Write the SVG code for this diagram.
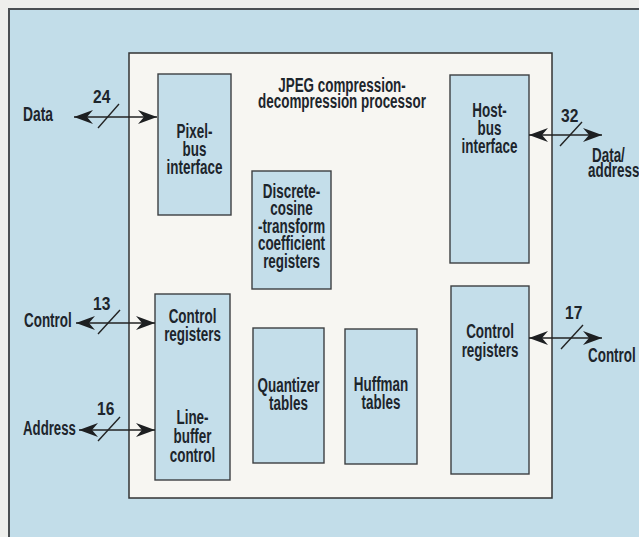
<svg xmlns="http://www.w3.org/2000/svg" width="639" height="537" viewBox="0 0 639 537">
<defs>
<style>
.bg{fill:#c2dde9;stroke:#4a4f52;stroke-width:2}
.chip{fill:#f7f6f2;stroke:#333;stroke-width:1.5}
.box{fill:#c4deea;stroke:#3c3f42;stroke-width:1.4}
text{font-family:"Liberation Sans",Arial,sans-serif;font-weight:bold;font-size:21px;fill:#1d252c}
.c{text-anchor:middle}
.n{font-size:19px}
.wire{stroke:#222;stroke-width:1.3;fill:none}
.sl{stroke:#222;stroke-width:1.4;fill:none}
</style>
<marker id="ah" markerUnits="userSpaceOnUse" markerWidth="21" markerHeight="16" viewBox="-20 -8 21 16" refX="0" refY="0" orient="auto-start-reverse">
<path d="M0,0 L-19,-7 L-13,0 L-19,7 Z" fill="#1d1f21"/>
</marker>
</defs>
<rect x="0" y="0" width="639" height="537" fill="#eeefec"/>
<rect class="bg" x="9" y="9" width="700" height="600"/>

<g id="chip">
<rect class="chip" x="129" y="53" width="423" height="445"/>
<g transform="translate(342,0) scale(0.64,1)">
<text class="c" x="0" y="92">JPEG compression-</text>
<text class="c" x="0" y="108">decompression processor</text>
</g>
</g>

<g id="pixel-bus">
<rect class="box" x="158" y="74" width="73" height="141"/>
<g transform="translate(194.5,0) scale(0.64,1)">
<text class="c" x="0" y="138">Pixel-</text>
<text class="c" x="0" y="156">bus</text>
<text class="c" x="0" y="174">interface</text>
</g>
</g>

<g id="dct">
<rect class="box" x="252" y="171" width="79" height="118"/>
<g transform="translate(291.5,0) scale(0.64,1)">
<text class="c" x="0" y="198">Discrete-</text>
<text class="c" x="0" y="215.5">cosine</text>
<text class="c" x="0" y="233">-transform</text>
<text class="c" x="0" y="250.5">coefficient</text>
<text class="c" x="0" y="268">registers</text>
</g>
</g>

<g id="host-bus">
<rect class="box" x="450" y="75" width="79" height="188"/>
<g transform="translate(489.5,0) scale(0.64,1)">
<text class="c" x="0" y="117">Host-</text>
<text class="c" x="0" y="135">bus</text>
<text class="c" x="0" y="153">interface</text>
</g>
</g>

<g id="left-control">
<rect class="box" x="155" y="294" width="75" height="186"/>
<g transform="translate(192.5,0) scale(0.64,1)">
<text class="c" x="0" y="323">Control</text>
<text class="c" x="0" y="341.5">registers</text>
<text class="c" x="0" y="424">Line-</text>
<text class="c" x="0" y="443">buffer</text>
<text class="c" x="0" y="462">control</text>
</g>
</g>

<g id="quantizer">
<rect class="box" x="253" y="328" width="71" height="135"/>
<g transform="translate(288.5,0) scale(0.64,1)">
<text class="c" x="0" y="392">Quantizer</text>
<text class="c" x="0" y="410">tables</text>
</g>
</g>

<g id="huffman">
<rect class="box" x="345" y="329" width="72" height="135"/>
<g transform="translate(381,0) scale(0.64,1)">
<text class="c" x="0" y="391">Huffman</text>
<text class="c" x="0" y="409">tables</text>
</g>
</g>

<g id="right-control">
<rect class="box" x="451" y="286" width="78" height="188"/>
<g transform="translate(490,0) scale(0.64,1)">
<text class="c" x="0" y="338">Control</text>
<text class="c" x="0" y="357">registers</text>
</g>
</g>

<g id="connectors">
<line class="wire" x1="74" y1="117" x2="157" y2="117" marker-start="url(#ah)" marker-end="url(#ah)"/>
<line class="sl" x1="98" y1="128" x2="119" y2="104"/>
<line class="wire" x1="76" y1="323" x2="155" y2="323" marker-start="url(#ah)" marker-end="url(#ah)"/>
<line class="sl" x1="98" y1="334" x2="120" y2="310"/>
<line class="wire" x1="79" y1="430" x2="155" y2="430" marker-start="url(#ah)" marker-end="url(#ah)"/>
<line class="sl" x1="98" y1="441" x2="120" y2="417"/>
<line class="wire" x1="529" y1="135" x2="602" y2="135" marker-start="url(#ah)" marker-end="url(#ah)"/>
<line class="sl" x1="560" y1="146" x2="582" y2="122"/>
<line class="wire" x1="529" y1="338" x2="602" y2="338" marker-start="url(#ah)" marker-end="url(#ah)"/>
<line class="sl" x1="561" y1="349" x2="583" y2="325"/>
</g>

<g id="labels">
<text transform="translate(23,121) scale(0.66,1)">Data</text>
<text transform="translate(24,327) scale(0.64,1)">Control</text>
<text transform="translate(23,435) scale(0.63,1)">Address</text>
<text class="n" transform="translate(93,103) scale(0.82,1)">24</text>
<text class="n" transform="translate(93,310) scale(0.82,1)">13</text>
<text class="n" transform="translate(97,415) scale(0.82,1)">16</text>
<text class="n" transform="translate(561,122) scale(0.82,1)">32</text>
<text class="n" transform="translate(565,319) scale(0.82,1)">17</text>
<text transform="translate(592,162) scale(0.64,1)">Data/</text>
<text transform="translate(588,177) scale(0.64,1)">address</text>
<text transform="translate(588,362) scale(0.64,1)">Control</text>
</g>
</svg>
